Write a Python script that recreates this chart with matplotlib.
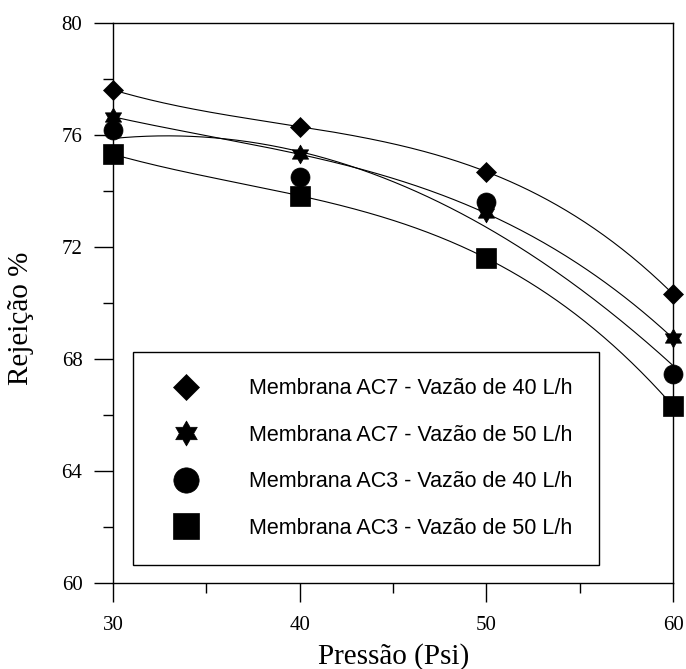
import numpy as np
import matplotlib
matplotlib.use("Agg")
import matplotlib.pyplot as plt
from matplotlib.path import Path
from matplotlib.lines import Line2D
from matplotlib.ticker import MultipleLocator

# ---- data ----
pressao = [30, 40, 50, 60]
ac7_40 = [77.60, 76.29, 74.68, 70.31]
ac7_50 = [76.64, 75.30, 73.19, 68.73]
ac3_40 = [76.17, 74.48, 73.61, 67.45]
ac3_50 = [75.30, 73.82, 71.59, 66.31]
labels = ["Membrana AC7 - Vazão de 40 L/h",
          "Membrana AC7 - Vazão de 50 L/h",
          "Membrana AC3 - Vazão de 40 L/h",
          "Membrana AC3 - Vazão de 50 L/h"]
fit_degree = [3, 3, 2, 3]
x_ticks = [30, 40, 50, 60]
y_ticks = [60, 64, 68, 72, 76, 80]

star6 = Path.unit_regular_star(6, 0.577)
styles = [dict(marker="D", ms=9.7),
          dict(marker=star6, ms=13.5),
          dict(marker="o", ms=13.7),
          dict(marker="s", ms=14.2)]

W, H = 686, 669
fig = plt.figure(figsize=(W / 100, H / 100), dpi=100)
ax = fig.add_axes([113 / W, 1 - 582.7 / H, 560 / W, 560 / H])

serif = "Liberation Serif"
sans = "Liberation Sans"

xs = np.linspace(30, 60, 300)
handles = []
for ys, deg, st, lab in zip([ac7_40, ac7_50, ac3_40, ac3_50], fit_degree,
                            styles, labels):
    coef = np.polyfit(pressao, ys, deg)
    ax.plot(xs, np.polyval(coef, xs), color="black", lw=0.8, zorder=2)
    ax.plot(pressao, ys, linestyle="none", marker=st["marker"], ms=st["ms"],
            color="black", mec="black", mew=0.5, zorder=3, clip_on=False)
    handles.append(Line2D([], [], linestyle="none", marker=st["marker"],
                          ms=st["ms"], color="black", mec="black", mew=0.5,
                          label=lab))

ax.set_xlim(30, 60)
ax.set_ylim(60, 80)
ax.set_xticks(x_ticks)
ax.set_yticks(y_ticks)
ax.xaxis.set_minor_locator(MultipleLocator(5))
ax.yaxis.set_minor_locator(MultipleLocator(2))
ax.tick_params(which="major", direction="out", length=14, width=1.0,
               top=False, right=False)
ax.tick_params(which="minor", direction="out", length=7, width=1.0,
               top=False, right=False)
ax.tick_params(axis="x", which="major", pad=10)
ax.tick_params(axis="y", which="major", pad=8)
for lab in ax.get_xticklabels() + ax.get_yticklabels():
    lab.set_fontfamily(serif)
    lab.set_fontsize(15)
for sp in ax.spines.values():
    sp.set_linewidth(1.0)

leg = ax.legend(handles=handles, loc="upper left",
                bbox_to_anchor=((132.7 - 113) / 560, (582.7 - 352) / 560),
                borderaxespad=0, frameon=True, fancybox=False, shadow=False,
                framealpha=1, edgecolor="black", markerscale=1.33,
                prop={"family": sans, "size": 15.5},
                handlelength=2.53, handletextpad=1.63, borderpad=1.23,
                labelspacing=1.18, numpoints=1)
leg.get_frame().set_linewidth(1.0)

fig.text(394 / W, 1 - 664 / H, "Pressão (Psi)", family=serif, fontsize=21,
         ha="center", va="baseline")
fig.text(21 / W, 1 - 318.5 / H, "Rejeição %", family=serif, fontsize=21,
         rotation=90, ha="center", va="center")

fig.savefig("out.png", dpi=100)
